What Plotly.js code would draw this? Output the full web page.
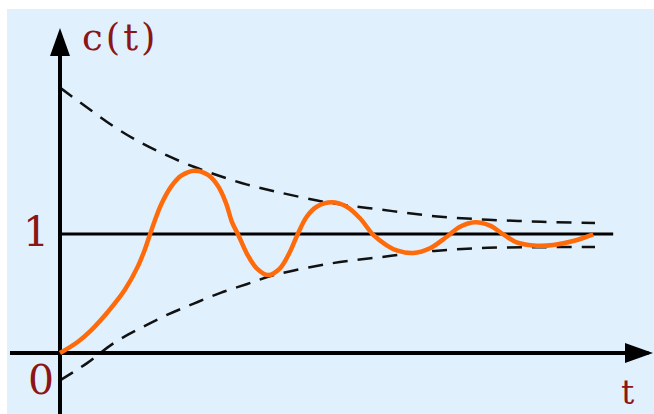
<!DOCTYPE html>
<html lang="en">
<head>
    <meta charset="UTF-8">
    <script src="https://cdn.plot.ly/plotly-3.0.1.min.js"></script>
    <style>
        html, body, #plot {
            width: 654px;
            height: 414px;
            margin: 0;
            padding: 0;
            overflow: hidden;
            background: #ffffff;
        }
        g.annotation[data-index="0"] text {
            letter-spacing: 3px;
        }
    </style>
</head>
<body>
<div id="plot"></div>
<script>
    // step response c(t)
    const respT = [0, 0.336, 0.585, 0.897, 1.209, 1.458, 1.594, 1.677, 1.770, 1.893, 2.080, 2.267, 2.518, 2.766, 2.953, 3.103, 3.215, 3.333, 3.490, 3.677, 3.893, 4.112, 4.299, 4.436, 4.611, 4.798, 5.079, 5.359, 5.607, 5.856, 6.107, 6.293, 6.604, 6.916, 7.228, 7.477, 7.757, 8.037, 8.286, 8.536, 8.910, 9.221, 9.594, 9.968];
    const respC = [0, 0.095, 0.193, 0.347, 0.529, 0.730, 0.880, 0.990, 1.110, 1.250, 1.400, 1.490, 1.532, 1.496, 1.403, 1.260, 1.100, 0.992, 0.838, 0.712, 0.655, 0.712, 0.851, 0.992, 1.145, 1.229, 1.266, 1.229, 1.132, 0.992, 0.905, 0.862, 0.840, 0.880, 0.977, 1.061, 1.098, 1.070, 0.997, 0.930, 0.902, 0.908, 0.941, 0.997];

    // envelope curves (dashed)
    const envT = [0, 0.5, 1, 1.5, 2, 2.5, 3, 3.5, 4, 5, 6, 7, 8, 9, 10];
    const envUpper = [2.23, 2.065, 1.905, 1.77, 1.66, 1.565, 1.485, 1.415, 1.36, 1.265, 1.205, 1.15, 1.12, 1.103, 1.092];
    const envLower = [-0.23, -0.087, 0.082, 0.208, 0.32, 0.415, 0.505, 0.58, 0.655, 0.748, 0.806, 0.858, 0.884, 0.889, 0.891];

    // steady state level
    const unitT = [0, 10.34];
    const unitC = [1, 1];

    // axis lines
    const axisXT = [-0.935, 11.0];
    const axisXC = [0, 0];
    const axisYT = [0, 0];
    const axisYC = [-0.6, 2.6];
    const arrowTipT = 11.084;
    const arrowTipC = 2.731;

    const labelColor = '#8c1515';
    const labelFont = 'DejaVu Serif, Liberation Serif, serif';

    const upperTrace = {
        x: envT, y: envUpper, type: 'scatter', mode: 'lines',
        line: {color: '#111111', width: 2.5, dash: '15px,10px', shape: 'spline'},
        hoverinfo: 'skip'
    };
    const lowerTrace = {
        x: envT, y: envLower, type: 'scatter', mode: 'lines',
        line: {color: '#111111', width: 2.5, dash: '15px,10px', shape: 'spline'},
        hoverinfo: 'skip'
    };
    const unitTrace = {
        x: unitT, y: unitC, type: 'scatter', mode: 'lines',
        line: {color: '#000000', width: 3},
        hoverinfo: 'skip'
    };
    const axisXTrace = {
        x: axisXT, y: axisXC, type: 'scatter', mode: 'lines',
        line: {color: '#000000', width: 4},
        hoverinfo: 'skip'
    };
    const axisYTrace = {
        x: axisYT, y: axisYC, type: 'scatter', mode: 'lines',
        line: {color: '#000000', width: 4},
        hoverinfo: 'skip'
    };
    const respTrace = {
        x: respT, y: respC, type: 'scatter', mode: 'lines',
        line: {color: '#ff6a0a', width: 4.5, shape: 'spline', smoothing: 1},
        hoverinfo: 'skip'
    };

    const layout = {
        width: 654,
        height: 414,
        margin: {l: 7, r: 0, t: 9, b: 0, pad: 0},
        paper_bgcolor: '#ffffff',
        plot_bgcolor: '#e0f1fd',
        showlegend: false,
        xaxis: {
            range: [-0.9907, 11.1028],
            visible: false, showgrid: false, zeroline: false, fixedrange: true
        },
        yaxis: {
            range: [-0.5126, 2.8908],
            visible: false, showgrid: false, zeroline: false, fixedrange: true
        },
        shapes: [
            {   // arrow on the vertical axis
                type: 'path', xref: 'x', yref: 'y',
                xsizemode: 'pixel', ysizemode: 'pixel',
                xanchor: 0, yanchor: arrowTipC,
                path: 'M0,0 L-10,-28 L10,-28 Z',
                fillcolor: '#000000', line: {width: 0}
            },
            {   // arrow on the horizontal axis
                type: 'path', xref: 'x', yref: 'y',
                xsizemode: 'pixel', ysizemode: 'pixel',
                xanchor: arrowTipT, yanchor: 0,
                path: 'M0,0 L-28,10 L-28,-10 Z',
                fillcolor: '#000000', line: {width: 0}
            }
        ],
        annotations: [
            {text: 'c(t)', x: 1.13, y: 2.651, xref: 'x', yref: 'y', showarrow: false,
             xanchor: 'center', yanchor: 'middle', font: {family: labelFont, size: 37, color: labelColor}},
            {text: '1', x: -0.458, y: 1.013, xref: 'x', yref: 'y', showarrow: false,
             xanchor: 'center', yanchor: 'middle', font: {family: labelFont, size: 41, color: labelColor}},
            {text: '0', x: -0.355, y: -0.227, xref: 'x', yref: 'y', showarrow: false,
             xanchor: 'center', yanchor: 'middle', font: {family: labelFont, size: 41, color: labelColor}},
            {text: 't', x: 10.6, y: -0.336, xref: 'x', yref: 'y', showarrow: false,
             xanchor: 'center', yanchor: 'middle', font: {family: labelFont, size: 33, color: labelColor}}
        ]
    };

    const config = {
        displayModeBar: false,
        staticPlot: true
    };

    const data = [upperTrace, lowerTrace, unitTrace, axisXTrace, axisYTrace, respTrace];

    Plotly.newPlot('plot', data, layout, config);
</script>
</body>
</html>
